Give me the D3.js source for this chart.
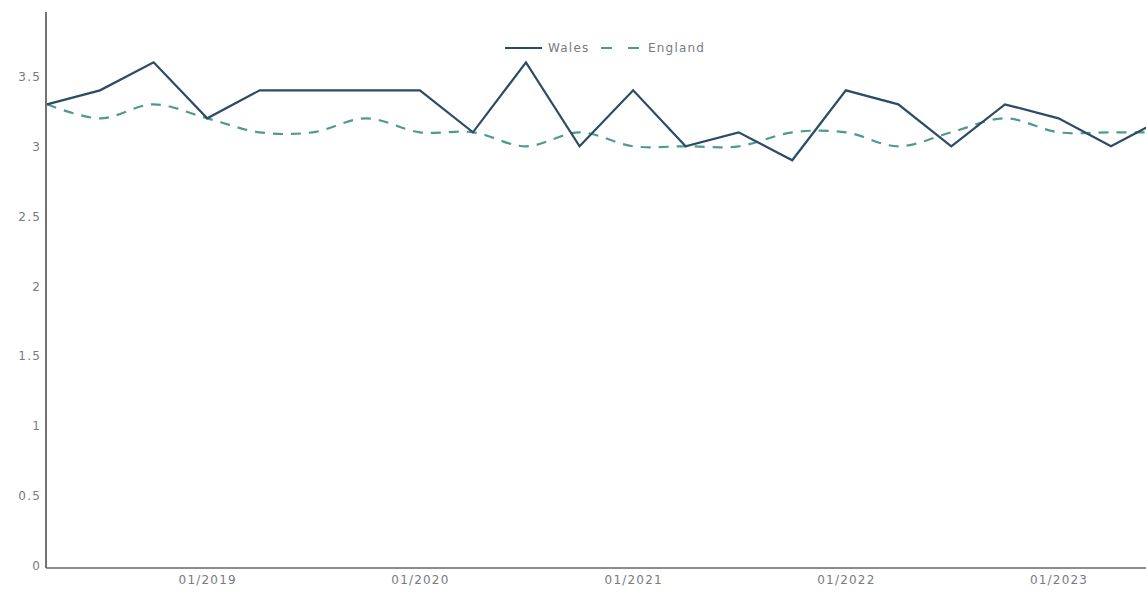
<!DOCTYPE html>
<html>
<head>
<meta charset="utf-8">
<script src="https://cdn.jsdelivr.net/npm/d3@7"></script>
<style>
  html, body { margin: 0; padding: 0; background: #fff; }
  svg { display: block; }
  text { font-family: "DejaVu Sans", Verdana, sans-serif; }
</style>
</head>
<body>
<svg id="chart" width="1146" height="592"></svg>
<script>
// Quarterly dates (month/year)
const dates = ["2018-04","2018-07","2018-10","2019-01","2019-04","2019-07","2019-10","2020-01","2020-04","2020-07","2020-10","2021-01","2021-04","2021-07","2021-10","2022-01","2022-04","2022-07","2022-10","2023-01","2023-04","2023-07"];
const wales   = [3.3,3.4,3.6,3.2,3.4,3.4,3.4,3.4,3.1,3.6,3.0,3.4,3.0,3.1,2.9,3.4,3.3,3.0,3.3,3.2,3.0,3.2];
const england = [3.3,3.2,3.3,3.2,3.1,3.1,3.2,3.1,3.1,3.0,3.1,3.0,3.0,3.0,3.1,3.1,3.0,3.1,3.2,3.1,3.1,3.1];
const yTicks = [0,0.5,1,1.5,2,2.5,3,3.5];
const xTickDates = ["2019-01","2020-01","2021-01","2022-01","2023-01"];
const seriesNames = ["Wales","England"];

(function () {
const parse = d3.timeParse("%Y-%m");
const svg = d3.select("#chart");
const W = 1146, H = 592;
const mLeft = 46, mBottom = 566, mTop = 12;
const txtColor = "#777a80";
const fs = "12px", ls = "1.2px";

const x = d3.scaleTime()
  .domain([parse(dates[0]), parse(dates[dates.length-1])])
  .range([47, 1164]);
const y = d3.scaleLinear().domain([0, 3.96]).range([mBottom, mTop]);

svg.append("defs").append("clipPath").attr("id","clip")
  .append("rect").attr("x", mLeft).attr("y", 0).attr("width", W - mLeft).attr("height", H);

// Y axis
const yAxis = svg.append("g").attr("transform", `translate(${mLeft},0)`)
  .call(d3.axisLeft(y).tickValues(yTicks).tickSize(0).tickPadding(5).tickFormat(d => d3.format("")(d)));
yAxis.select(".domain").remove();
yAxis.selectAll("text").attr("fill", txtColor).style("font-size", fs).style("letter-spacing", ls);
svg.append("line").attr("x1", mLeft).attr("x2", mLeft).attr("y1", mTop).attr("y2", mBottom + 2)
  .attr("stroke", "#444").attr("stroke-width", 1.5);

// X axis
const xAxis = svg.append("g").attr("transform", `translate(0,${mBottom + 2})`)
  .call(d3.axisBottom(x).tickValues(xTickDates.map(parse)).tickSize(0).tickPadding(7)
    .tickFormat(d3.timeFormat("%m/%Y")));
xAxis.select(".domain").remove();
xAxis.selectAll("text").attr("fill", txtColor).style("font-size", fs).style("letter-spacing", ls);
svg.append("line").attr("x1", mLeft).attr("x2", W).attr("y1", mBottom + 2).attr("y2", mBottom + 2)
  .attr("stroke", "#666").attr("stroke-width", 1.5);

const g = svg.append("g").attr("clip-path", "url(#clip)");

const lineW = d3.line().x((d,i) => x(parse(dates[i]))).y(d => y(d));
const lineE = d3.line().x((d,i) => x(parse(dates[i]))).y(d => y(d)).curve(d3.curveCatmullRom.alpha(0.5));

g.append("path").datum(england).attr("d", lineE)
  .attr("fill","none").attr("stroke","#4f9a8f").attr("stroke-width",2.2)
  .attr("stroke-dasharray","10,8");
g.append("path").datum(wales).attr("d", lineW)
  .attr("fill","none").attr("stroke","#2b4b66").attr("stroke-width",2.2)
  .attr("stroke-linejoin","miter");

// Legend
const lg = svg.append("g").attr("transform","translate(505,48)");
lg.append("line").attr("x1",0).attr("x2",37).attr("y1",0).attr("y2",0)
  .attr("stroke","#2b4b66").attr("stroke-width",2.2);
lg.append("text").attr("x",43).attr("y",4).text(seriesNames[0])
  .attr("fill",txtColor).style("font-size",fs).style("letter-spacing", ls);
lg.append("line").attr("x1",96).attr("x2",134).attr("y1",0).attr("y2",0)
  .attr("stroke","#4f9a8f").attr("stroke-width",2.2).attr("stroke-dasharray","11,16");
lg.append("text").attr("x",143).attr("y",4).text(seriesNames[1])
  .attr("fill",txtColor).style("font-size",fs).style("letter-spacing", ls);
})();
</script>
</body>
</html>
